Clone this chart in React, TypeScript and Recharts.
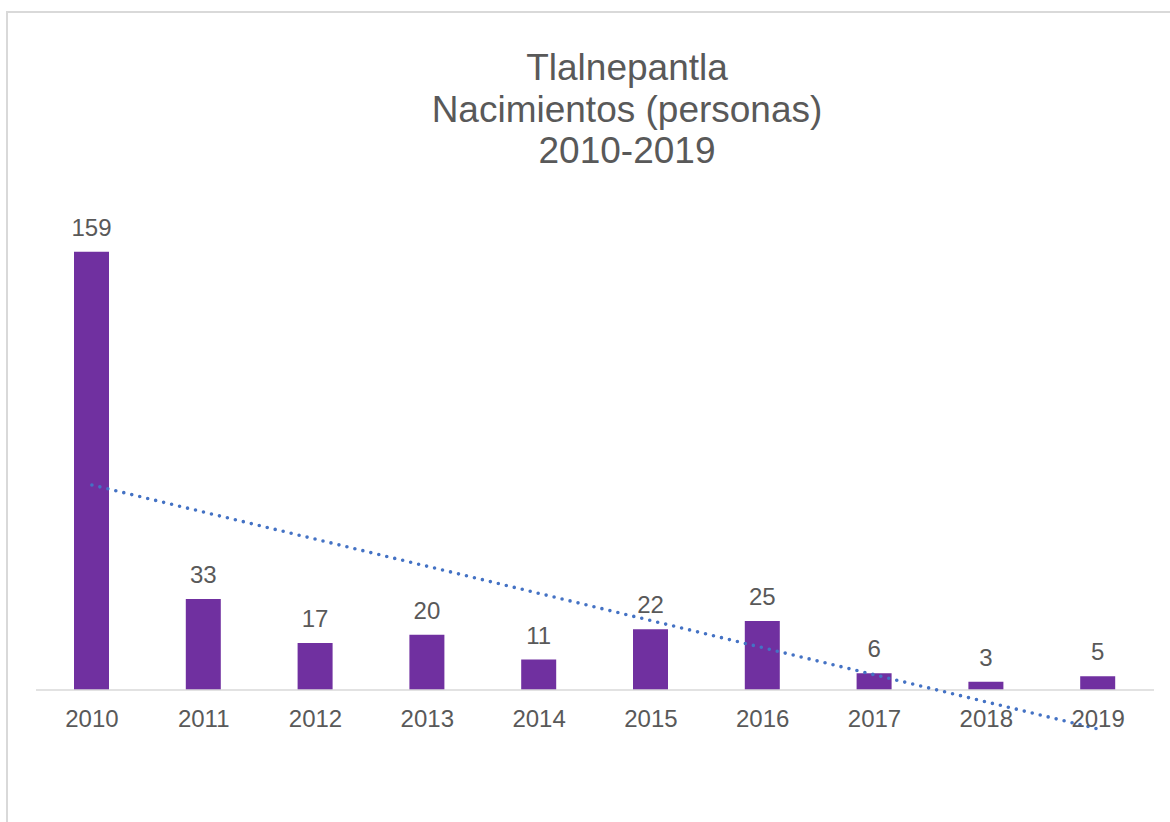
import { ComposedChart, Bar, Line, XAxis, YAxis, ReferenceLine, LabelList } from 'recharts';

const years = ['2010', '2011', '2012', '2013', '2014', '2015', '2016', '2017', '2018', '2019'];
const births = [159, 33, 17, 20, 11, 22, 25, 6, 3, 5];
// dotted linear trend, endpoints
const trend: (number | null)[] = [74.4, null, null, null, null, null, null, null, null, -14.2];
const titleLines = ['Tlalnepantla', 'Nacimientos (personas)', '2010-2019'];

const FONT = '"Liberation Sans", Arial, sans-serif';
const TEXT = '#595959';

const data = years.map((year, i) => ({ year, births: births[i], trend: trend[i] }));

const renderTick = (props: any) => {
  const { x, y, payload } = props;
  return (
    <text x={x} y={y - 18} textAnchor="middle" fill={TEXT} fontSize={24} fontFamily={FONT}>
      {payload.value}
    </text>
  );
};

const App = () => {
  return (
    <div style={{ position: 'fixed', left: 0, top: 0, width: 1170, height: 822, overflow: 'hidden', background: '#fff' }}>
      <div
        style={{
          position: 'absolute',
          left: 6,
          top: 11,
          width: 1300,
          height: 900,
          borderTop: '2px solid #d9d9d9',
          borderLeft: '2px solid #d9d9d9',
        }}
      />
      <svg width={1170} height={200} style={{ position: 'absolute', left: 0, top: 0 }}>
        {titleLines.map((line, i) => (
          <text key={line} x={627} y={80 + i * 41.5} textAnchor="middle" fill={TEXT} fontSize={37} fontFamily={FONT}>
            {line}
          </text>
        ))}
      </svg>
      <div style={{ position: 'absolute', left: 0, top: 0 }}>
        <ComposedChart width={1170} height={822} data={data} margin={{ top: 194, right: 16, bottom: 47, left: 36 }}>
          <XAxis
            dataKey="year"
            height={30}
            axisLine={false}
            tickLine={false}
            tickSize={0}
            tickMargin={0}
            interval={0}
            tick={renderTick}
          />
          <YAxis hide type="number" domain={[-20, 180]} />
          <ReferenceLine y={0} stroke="#d9d9d9" strokeWidth={1.5} />
          <Bar dataKey="births" fill="#7030a0" barSize={35} isAnimationActive={false}>
            <LabelList dataKey="births" position="top" offset={16} fill={TEXT} fontSize={24} fontFamily={FONT} />
          </Bar>
          <Line
            type="linear"
            dataKey="trend"
            connectNulls
            stroke="#4472c4"
            strokeWidth={3.6}
            strokeDasharray="0 8.2"
            strokeLinecap="round"
            dot={false}
            activeDot={false}
            isAnimationActive={false}
          />
        </ComposedChart>
      </div>
    </div>
  );
};

export default App;
